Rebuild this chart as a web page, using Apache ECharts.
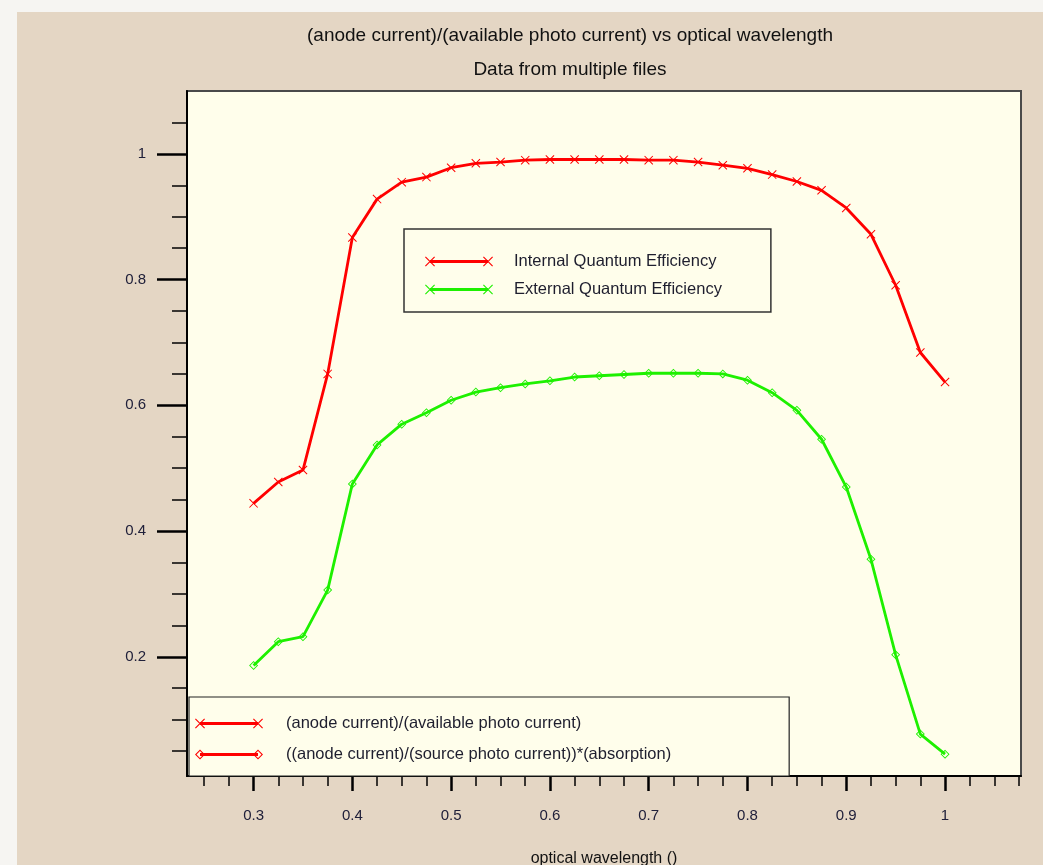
<!DOCTYPE html>
<html>
<head>
<meta charset="utf-8">
<title>anode current vs optical wavelength</title>
<script src="https://cdn.jsdelivr.net/npm/echarts@6/dist/echarts.min.js"></script>
<style>
  html, body { margin: 0; padding: 0; background: #f6f5f2; }
  #chart { position: absolute; left: 17px; top: 12px; width: 1026px; height: 853px; background: #e4d6c4; }
</style>
</head>
<body>
<div id="chart"></div>
<script>
// 数据 : 波长 (x)
const wavelength = [0.3, 0.325, 0.35, 0.375, 0.4, 0.425, 0.45, 0.475, 0.5, 0.525,
  0.55, 0.575, 0.6, 0.625, 0.65, 0.675, 0.7, 0.725, 0.75, 0.775,
  0.8, 0.825, 0.85, 0.875, 0.9, 0.925, 0.95, 0.975, 1.0]
// Internal Quantum Efficiency (红)
const internalQE = [0.444, 0.478, 0.497, 0.650, 0.867, 0.928, 0.955, 0.963, 0.978, 0.985,
  0.987, 0.990, 0.991, 0.991, 0.991, 0.991, 0.990, 0.990, 0.987, 0.982,
  0.977, 0.967, 0.956, 0.942, 0.914, 0.872, 0.791, 0.684, 0.637]
// External Quantum Efficiency (绿)
const externalQE = [0.186, 0.224, 0.232, 0.306, 0.475, 0.537, 0.570, 0.588, 0.608, 0.621,
  0.628, 0.634, 0.639, 0.645, 0.647, 0.649, 0.651, 0.651, 0.651, 0.650,
  0.640, 0.620, 0.592, 0.546, 0.470, 0.355, 0.203, 0.077, 0.045]

// 刻度
const xMajorTicks = [0.3, 0.4, 0.5, 0.6, 0.7, 0.8, 0.9, 1]
const xMinorTicks = [0.25, 0.275, 0.325, 0.35, 0.375, 0.425, 0.45, 0.475, 0.525, 0.55, 0.575,
  0.625, 0.65, 0.675, 0.725, 0.75, 0.775, 0.825, 0.85, 0.875, 0.925, 0.95, 0.975, 1.025, 1.05, 1.075]
const yMajorTicks = [0.2, 0.4, 0.6, 0.8, 1]
const yMinorTicks = [0.05, 0.1, 0.15, 0.25, 0.3, 0.35, 0.45, 0.5, 0.55, 0.65, 0.7, 0.75,
  0.85, 0.9, 0.95, 1.05]

const FONT = "'Liberation Sans', Arial, sans-serif"
const RED = '#ff0000'
const GREEN = '#1ef000'
const PLOT_BG = '#fffeeb'

// 符号
const X_SYMBOL = 'path://M0.8,0 L10,9.2 L9.2,10 L0,0.8 Z M9.2,0 L10,0.8 L0.8,10 L0,9.2 Z'
const DIAMOND_SYMBOL = 'path://M5,0 L10,5 L5,10 L0,5 Z M5,1.4 L1.4,5 L5,8.6 L8.6,5 Z'

// 图例图标: 线 + 两端符号
function xMark(cx) {
  return `M${cx - 4.2},1 L${cx + 5},10.2 L${cx + 4.2},11 L${cx - 5},1.8 Z ` +
    `M${cx + 4.2},1 L${cx + 5},1.8 L${cx - 4.2},11 L${cx - 5},10.2 Z`
}
function diamondMark(cx) {
  return `M${cx},1 L${cx + 5},6 L${cx},11 L${cx - 5},6 Z M${cx},2.5 L${cx - 3.5},6 L${cx},9.5 L${cx + 3.5},6 Z`
}
const LINE_BAR = 'M5,4.5 L63,4.5 L63,7.5 L5,7.5 Z '
const ICON_X = 'path://' + LINE_BAR + xMark(5) + ' ' + xMark(63)
const ICON_DIAMOND = 'path://' + LINE_BAR + diamondMark(5) + ' ' + diamondMark(63)

const seriesA = 'Internal Quantum Efficiency'
const seriesB = 'External Quantum Efficiency'
const seriesC = '(anode current)/(available photo current)'
const seriesD = '((anode current)/(source photo current))*(absorption)'

const myChart = echarts.init(document.querySelector('#chart'))

const X_MIN = 0.2326, X_MAX = 1.0769
const Y_MIN = 0.0103, Y_MAX = 1.1

const legendCommon = {
  orient: 'vertical',
  selectedMode: false,
  backgroundColor: PLOT_BG,
  borderColor: '#333',
  borderWidth: 1.5,
  borderRadius: 0,
  itemWidth: 68,
  itemHeight: 12,
  itemStyle: { borderWidth: 0 },
  textStyle: { fontFamily: FONT, fontSize: 16.5, color: '#1e1e2e', lineHeight: 16 }
}

const option = {
  animation: false,
  title: [
    {
      text: '(anode current)/(available photo current) vs optical wavelength',
      left: 553, top: 14, textAlign: 'center', padding: 0,
      textStyle: { fontFamily: FONT, fontSize: 19, fontWeight: 'normal', color: '#111' }
    },
    {
      text: 'Data from multiple files',
      left: 553, top: 48, textAlign: 'center', padding: 0,
      textStyle: { fontFamily: FONT, fontSize: 19, fontWeight: 'normal', color: '#111' }
    }
  ],
  grid: {
    left: 170, top: 79, right: 22, bottom: 89,
    outerBoundsMode: 'none',
    containLabel: false,
    show: true,
    backgroundColor: PLOT_BG,
    borderColor: '#4a4a4a',
    borderWidth: 2
  },
  legend: [
    Object.assign({}, legendCommon, {
      left: 387, top: 217,
      padding: [24, 49, 14, 21],
      itemGap: 11,
      data: [{ name: seriesA, icon: ICON_X }, { name: seriesB, icon: ICON_X }],
      textStyle: Object.assign({}, legendCommon.textStyle, { padding: [0, 0, 0, 16] })
    }),
    Object.assign({}, legendCommon, {
      left: 172, top: 685,
      padding: [18, 118, 13, 6],
      itemGap: 14,
      borderColor: '#222',
      borderWidth: 1.2,
      data: [{ name: seriesC, icon: ICON_X }, { name: seriesD, icon: ICON_DIAMOND }],
      textStyle: Object.assign({}, legendCommon.textStyle, { padding: [0, 0, 0, 18] })
    })
  ],
  xAxis: [
    {
      type: 'value', min: X_MIN, max: X_MAX, position: 'bottom',
      name: 'optical wavelength ()', nameLocation: 'middle', nameGap: 75,
      nameTextStyle: { fontFamily: FONT, fontSize: 16, color: '#111' },
      axisLine: { show: true, lineStyle: { color: '#000', width: 2 } },
      axisTick: { show: true, customValues: xMajorTicks, length: 15, lineStyle: { color: '#000', width: 2.5 } },
      axisLabel: {
        customValues: xMajorTicks, margin: 32,
        fontFamily: FONT, fontSize: 15, color: '#20203a',
        formatter: v => String(v)
      },
      splitLine: { show: false }
    },
    {
      type: 'value', min: X_MIN, max: X_MAX, position: 'bottom',
      axisLine: { show: false },
      axisTick: { show: true, customValues: xMinorTicks, length: 10, lineStyle: { color: '#000', width: 1.5 } },
      axisLabel: { show: false },
      splitLine: { show: false }
    }
  ],
  yAxis: [
    {
      type: 'value', min: Y_MIN, max: Y_MAX, position: 'left',
      axisLine: { show: true, lineStyle: { color: '#000', width: 2 } },
      axisTick: { show: true, customValues: yMajorTicks, length: 30, lineStyle: { color: '#000', width: 2.5 } },
      axisLabel: {
        customValues: yMajorTicks, margin: 41,
        fontFamily: FONT, fontSize: 15, color: '#20203a',
        formatter: v => String(v)
      },
      splitLine: { show: false }
    },
    {
      type: 'value', min: Y_MIN, max: Y_MAX, position: 'left',
      axisLine: { show: false },
      axisTick: { show: true, customValues: yMinorTicks, length: 15, lineStyle: { color: '#000', width: 1.5 } },
      axisLabel: { show: false },
      splitLine: { show: false }
    }
  ],
  series: [
    {
      name: seriesB,
      type: 'line',
      xAxisIndex: 0, yAxisIndex: 0,
      data: wavelength.map((x, i) => [x, externalQE[i]]),
      symbol: DIAMOND_SYMBOL,
      symbolSize: 9,
      itemStyle: { color: GREEN },
      lineStyle: { color: GREEN, width: 2.8 }
    },
    {
      name: seriesA,
      type: 'line',
      xAxisIndex: 0, yAxisIndex: 0,
      data: wavelength.map((x, i) => [x, internalQE[i]]),
      symbol: X_SYMBOL,
      symbolSize: 9,
      itemStyle: { color: RED },
      lineStyle: { color: RED, width: 2.8 }
    },
    // 仅用于下方图例
    { name: seriesC, type: 'line', data: [], itemStyle: { color: RED }, lineStyle: { color: RED } },
    { name: seriesD, type: 'line', data: [], itemStyle: { color: RED }, lineStyle: { color: RED } }
  ]
}
myChart.setOption(option)
</script>
</body>
</html>
